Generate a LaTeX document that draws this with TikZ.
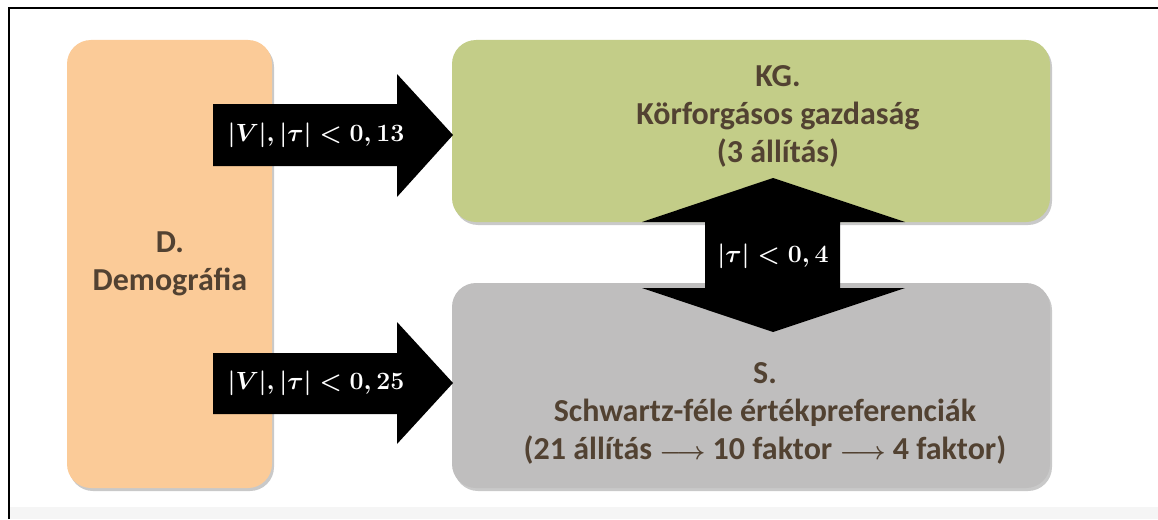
\documentclass[tikz,border=0pt]{standalone}
\usepackage{fontspec}
\usepackage{amsmath}
\setmainfont{Carlito}
\usetikzlibrary{shadows}
\definecolor{peach}{RGB}{251,203,152}
\definecolor{olive}{RGB}{195,205,136}
\definecolor{greybox}{RGB}{191,190,190}
\definecolor{brown}{RGB}{82,66,50}
\tikzset{
  box/.style={rounded corners=24pt, draw=none, drop shadow={shadow xshift=2pt,shadow yshift=-3pt,opacity=0.35,fill=black!60}},
  boxtext/.style={text=brown, font=\fontsize{32}{38}\selectfont\bfseries, align=center},
  blockarrow/.style={fill=black, draw=none},
  arrowlabel/.style={text=white, font=\fontsize{24.5}{30}\selectfont}
}
\begin{document}
\begin{tikzpicture}[x=1pt,y=-1pt]
\useasboundingbox (0,0) rectangle (1158,519);
\fill[white] (0,0) rectangle (1158,519);
\fill[black!4] (10,507) rectangle (1158,519);
\draw[line width=2.5pt] (9,519) -- (9,8) -- (1158,8);
% boxes
\fill[peach, box] (67,40) rectangle (272,488);
\fill[olive, box] (452,40) rectangle (1050,222);
\fill[greybox, box] (452,283) rectangle (1050,488);
\coordinate (D) at (170,264);
\coordinate (KG) at (778,116);
\coordinate (S) at (765,413);
\node[boxtext] (dtext) at (D) {D.\\Demográfia};
% arrows
\fill[blockarrow] (213,104) -- (397,104) -- (397,74) -- (453,135) -- (397,197) -- (397,166) -- (213,166) -- cycle;
\fill[blockarrow] (213,353) -- (397,353) -- (397,322) -- (453,383) -- (397,444) -- (397,414) -- (213,414) -- cycle;
\fill[blockarrow] (773,178) -- (905,222) -- (840,222) -- (840,288) -- (905,288) -- (773,332) -- (642,288) -- (705,288) -- (705,222) -- (642,222) -- cycle;
\node[boxtext] (kgtext) at (KG) {KG.\\Körforgásos gazdaság\\(3 állítás)};
\node[boxtext] (stext) at (S) {S.\\Schwartz-féle értékpreferenciák\\(21 állítás $\boldsymbol{\longrightarrow}$ 10 faktor $\boldsymbol{\longrightarrow}$ 4 faktor)};
\node[arrowlabel] (l1) at (316,135) {$\boldsymbol{|V|, |\tau| < 0,13}$};
\node[arrowlabel] (l2) at (316,383) {$\boldsymbol{|V|, |\tau| < 0,25}$};
\node[arrowlabel] (l3) at (773,256) {$\boldsymbol{|\tau| < 0,4}$};
\end{tikzpicture}
\end{document}
